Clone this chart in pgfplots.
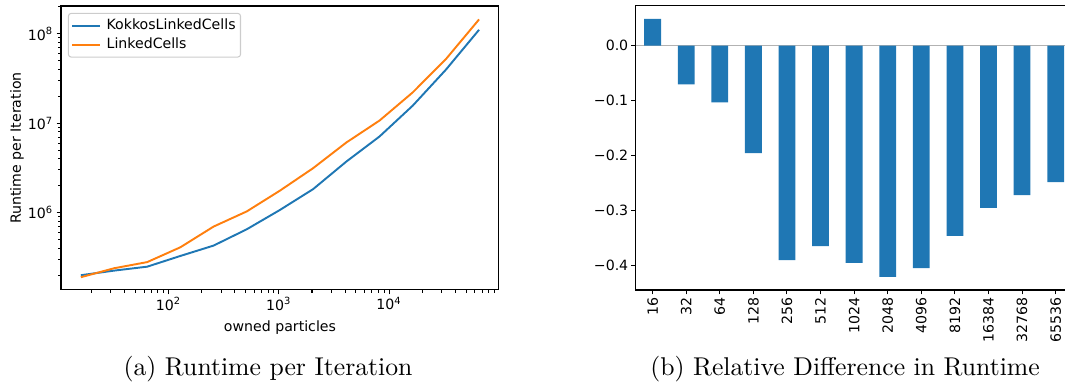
\documentclass[border=0pt]{standalone}
\usepackage{pgfplots}
\pgfplotsset{compat=1.18}
\usepackage{fontspec}
\newfontfamily\dv{DejaVu Sans}
\definecolor{tabblue}{HTML}{1F77B4}
\definecolor{taborange}{HTML}{FF7F0E}
\newcommand{\sm}{\dv\fontsize{5.5}{6.6}\selectfont}
\begin{document}
\begin{tikzpicture}
\path[use as bounding box] (0,0) rectangle (414.4pt,149.03pt);
\pgfplotsset{
  every axis/.append style={
    scale only axis,
    anchor=south west,
    tick align=outside,
    tick pos=left,
    major tick length=1.75pt,
    minor tick length=1pt,
    every tick/.style={black, line width=0.4pt},
    axis line style={line width=0.4pt},
    tick label style={font=\sm, inner sep=1pt},
    label style={font=\sm},
    /pgf/number format/assume math mode=true,
  }
}
% ---------- (a) ----------
\begin{axis}[
  at={(23.74pt,36.19pt)},
  width=170.4pt, height=110.5pt,
  xmode=log, ymode=log,
  xmin=10.57, xmax=99300,
  ymin=1.36e5, ymax=2.05e8,
  xtick={100,1000,10000},
  xticklabels={10\textsuperscript{2},10\textsuperscript{3},10\textsuperscript{4}},
  ytick={1e6,1e7,1e8},
  yticklabels={10\textsuperscript{6},10\textsuperscript{7},10\textsuperscript{8}},
  minor xtick={20,30,40,50,60,70,80,90,200,300,400,500,600,700,800,900,2000,3000,4000,5000,6000,7000,8000,9000,20000,30000,40000,50000,60000,70000,80000,90000},
  minor ytick={2e5,3e5,4e5,5e5,6e5,7e5,8e5,9e5,2e6,3e6,4e6,5e6,6e6,7e6,8e6,9e6,2e7,3e7,4e7,5e7,6e7,7e7,8e7,9e7,2e8},
  xlabel={owned particles},
  ylabel={Runtime per Iteration},
  xlabel style={at={(axis description cs:0.5,-0.145)}, anchor=base},
  ylabel style={at={(axis description cs:-0.1004,0.5)}, anchor=center, rotate=0},
  legend style={at={(axis description cs:0,1)}, anchor=north west,
    xshift=2.7pt, yshift=-2.7pt, draw=black!20, rounded corners=1pt,
    font=\sm, inner sep=1pt, row sep=0pt, nodes={inner sep=0.9pt},
    cells={anchor=west}},
  legend image code/.code={\draw[#1, line width=0.75pt] (0pt,0pt) -- (11pt,0pt);},
]
\addplot[tabblue, line width=0.75pt] coordinates {
(16,1.99e5) (32,2.24e5) (64,2.48e5) (128,3.27e5) (256,4.27e5) (512,6.5e5)
(1024,1.07e6) (2048,1.83e6) (4096,3.72e6) (8192,7.1e6) (16384,1.57e7)
(32768,3.97e7) (65536,1.11e8)};
\addlegendentry{\hspace{1.2pt}KokkosLinkedCells}
\addplot[taborange, line width=0.75pt] coordinates {
(16,1.89e5) (32,2.38e5) (64,2.79e5) (128,4.09e5) (256,6.97e5) (512,1.03e6)
(1024,1.76e6) (2048,3.14e6) (4096,6.08e6) (8192,1.07e7) (16384,2.21e7)
(32768,5.21e7) (65536,1.45e8)};
\addlegendentry{\hspace{1.2pt}LinkedCells}
\end{axis}
% ---------- (b) ----------
\begin{axis}[
  at={(247.4pt,36.19pt)},
  width=169.9pt, height=110.6pt,
  xmin=-0.5, xmax=12.5,
  ymin=-0.4455, ymax=0.0725,
  xtick={0,1,2,3,4,5,6,7,8,9,10,11,12},
  xticklabels={16,32,64,128,256,512,1024,2048,4096,8192,16384,32768,65536},
  xticklabel style={rotate=90, anchor=east},
  ytick={-0.4,-0.3,-0.2,-0.1,0},
  yticklabels={−0.4,−0.3,−0.2,−0.1,0.0},
]
\addplot[gray!60, line width=0.55pt] coordinates {(-0.5,0) (12.5,0)};
\addplot[ybar, bar width=0.5, bar shift=0pt, fill=tabblue, draw=none] coordinates {
(0,0.0485) (1,-0.0709) (2,-0.1036) (3,-0.196) (4,-0.391) (5,-0.3655)
(6,-0.396) (7,-0.4218) (8,-0.4055) (9,-0.347) (10,-0.296) (11,-0.2727) (12,-0.249)};
\end{axis}
% captions
\node[font=\fontsize{10}{12}\selectfont, anchor=base] at (104.3pt,3.1pt) {(a) Runtime per Iteration};
\node[font=\fontsize{10}{12}\selectfont, anchor=base] at (328.8pt,3.1pt) {(b) Relative Difference in Runtime};
\end{tikzpicture}
\end{document}
